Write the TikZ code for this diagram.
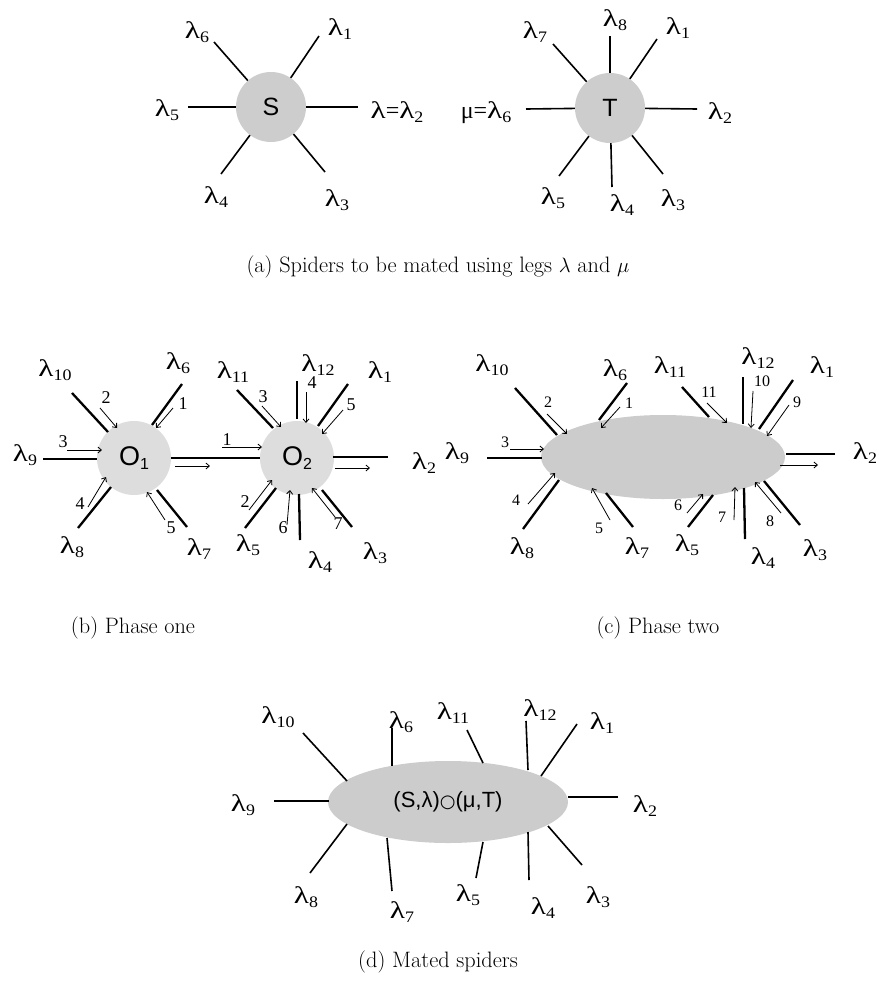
\documentclass[tikz,border=0pt]{standalone}
\usepackage{fontspec}
\usetikzlibrary{arrows.meta,shapes.geometric}
\newfontfamily\ser{Liberation Serif}
\newfontfamily\sansf{Liberation Sans}
\newfontfamily\dejavu{DejaVu Sans}
\newcommand\wl{\scalebox{1.3}[1]{λ}}
\newcommand\subn[1]{\raisebox{-0.35ex}{\fontsize{16}{16}\selectfont\scalebox{1.12}[1]{#1}}}
\newcommand\lam[1]{{\ser\fontsize{24}{24}\selectfont \wl\subn{#1}}}
\newcommand\lamrel[2]{{\ser\fontsize{24}{24}\selectfont #1=\wl\subn{#2}}}
\definecolor{bodya}{HTML}{CDCDCD}
\definecolor{bodyb}{HTML}{DDDDDD}
\definecolor{bodyc}{HTML}{CCCCCC}
\tikzset{
  lab/.style={inner sep=0pt},
  num/.style={inner sep=0pt, font=\ser\fontsize{18}{18}\selectfont},
  numc/.style={inner sep=0pt, font=\ser\fontsize{16}{16}\selectfont},
  leg/.style={line width=1.6pt},
  thickleg/.style={line width=2.3pt},
  arr/.style={line width=0.8pt, -{Straight Barb[length=3.5pt,width=6pt]}},
  disc/.style={circle, draw=none, inner sep=0pt, font=\sansf\fontsize{25}{25}\selectfont},
  oval/.style={ellipse, draw=none, inner sep=0pt},
  capt/.style={inner sep=0pt, font=\fontsize{22.3}{25}\selectfont}
}
\begin{document}
\begin{tikzpicture}[x=1pt,y=-1pt]
\path[use as bounding box, fill=white] (0,0) rectangle (878,990);

% ---------------- (a) ----------------
\node[disc, fill=bodya, minimum size=70pt] (S) at (271,107) {S};
\foreach \n/\xa/\ya in {6/214/42, 1/319/36, 5/188/107, 2/358/107, 4/221/174, 3/325/172}{
  \coordinate (s\n) at (\xa,\ya);
  \draw[leg] (S) -- (s\n);
}
\foreach \n/\xa/\ya in {6/197/32, 1/340/29, 5/167/110, 4/216/197, 3/337/200}{
  \node[lab] (sl\n) at (\xa,\ya) {\lam{\n}};
}
\node[lab] (sl2) at (397,112) {\lamrel{\wl}{2}};

\node[disc, fill=bodya, minimum size=70pt] (T) at (610,108) {T};
\foreach \n/\xa/\ya in {7/553/44, 8/610/36, 1/657/39, 6/526/109, 2/697/109, 5/559/176, 4/612/187, 3/663/174}{
  \coordinate (t\n) at (\xa,\ya);
  \draw[leg] (T) -- (t\n);
}
\foreach \n/\xa/\ya in {7/535/32, 8/615/20, 1/678/28, 2/720/113, 5/553/198, 4/622/205, 3/673/200}{
  \node[lab] (tl\n) at (\xa,\ya) {\lam{\n}};
}
\node[lab] (tl6) at (486,113) {\lamrel{μ}{6}};

\node[capt] (capa) at (438,267) {(a) Spiders to be mated using legs $\lambda$ and $\mu$};

% ---------------- (b) ----------------
\node[disc, fill=bodyb, minimum size=74pt, font=\sansf\fontsize{27}{27}\selectfont] (O1) at (134,458) {O\raisebox{-0.3ex}{\fontsize{16}{16}\selectfont 1}};
\node[disc, fill=bodyb, minimum size=74pt, font=\sansf\fontsize{27}{27}\selectfont] (O2) at (297,458) {O\raisebox{-0.3ex}{\fontsize{16}{16}\selectfont 2}};
\foreach \n/\xa/\ya/\xb/\yb in {10/72/393/108/432, 6/182/384/152/425, 9/43/459/97/459, 8/78/528/111/487, 7/187/527/157/490,
  11/237/390/273/428, 12/297/381/297/419, 1/348/384/318/426, 2/388/457/333/457, 5/245/528/276/488, 4/300/540/299/494, 3/352/527/322/490}{
  \coordinate (b\n o) at (\xa,\ya);
  \coordinate (b\n i) at (\xb,\yb);
  \draw[thickleg] (b\n o) -- (b\n i);
}
\draw[thickleg] (O1) -- (O2);
\foreach \n/\xa/\ya in {10/55/370, 6/178/363, 9/25/455, 8/72/547, 7/199/549, 11/233/372, 12/318/365, 1/380/372, 2/424/463, 5/248/545, 4/320/562, 3/375/553}{
  \node[lab] (bl\n) at (\xa,\ya) {\lam{\n}};
}
\foreach \k/\t/\xa/\ya/\xb/\yb/\lx/\ly in {a/2/100/408/117/428/106/398, b/1/173/408/156/428/183/404, c/3/67/450/102/450/63/442,
  d/4/88/507/106/477/80/504, e/5/165/520/147/492/171/528, f/1/222/447/262/447/227/440,
  g/3/262/406/281/427/263/397, h/4/306/392/306/423/312/383, i/5/343/410/322/434/351/405,
  j/2/249/510/272/480/245/502, k/6/287/525/290/490/283/528, l/7/335/517/312/488/338/524}{
  \coordinate (ba\k s) at (\xa,\ya);
  \coordinate (ba\k e) at (\xb,\yb);
  \draw[arr] (ba\k s) -- (ba\k e);
  \node[num] (ban\k) at (\lx,\ly) {\t};
}
\coordinate (bout1s) at (175,466); \coordinate (bout1e) at (210,466);
\draw[arr] (bout1s) -- (bout1e);
\coordinate (bout2s) at (335,468); \coordinate (bout2e) at (370,468);
\draw[arr] (bout2s) -- (bout2e);

\node[capt] (capb) at (133,628) {(b) Phase one};

% ---------------- (c) ----------------
\node[oval, fill=bodyc, minimum width=244pt, minimum height=84pt] (E1) at (663,457) {};
\foreach \n/\xa/\ya/\xb/\yb in {10/515/388/557/435, 6/627/383/599/420, 9/487/458/542/458, 8/523/529/559/480, 7/633/527/606/493,
  11/682/387/709/417, 12/743/377/743/424, 1/793/380/759/429, 2/835/454/786/454, 5/688/527/713/495, 4/745/539/744/488, 3/800/525/764/481}{
  \coordinate (c\n o) at (\xa,\ya);
  \coordinate (c\n i) at (\xb,\yb);
  \draw[thickleg] (c\n o) -- (c\n i);
}
\foreach \n/\xa/\ya in {10/492/365, 6/615/370, 9/457/453, 8/522/548, 7/637/548, 11/670/367, 12/758/358, 1/822/367, 2/865/453, 5/687/545, 4/763/558, 3/815/550}{
  \node[lab] (cl\n) at (\xa,\ya) {\lam{\n}};
}
\foreach \k/\t/\xa/\ya/\xb/\yb/\lx/\ly in {a/2/547/414/567/434/548/402, b/1/620/407/601/428/629/403, c/3/510/449/544/449/505/442,
  d/4/528/504/555/473/516/500, e/5/610/520/592/488/599/528, f/11/707/403/727/423/709/392,
  g/10/753/391/751/428/762/381, h/9/789/405/767/436/797/402, i/6/687/513/703/494/678/505,
  j/7/734/520/735/487/722/517, k/8/781/513/755/482/770/521}{
  \coordinate (ca\k s) at (\xa,\ya);
  \coordinate (ca\k e) at (\xb,\yb);
  \draw[arr] (ca\k s) -- (ca\k e);
  \node[numc] (can\k) at (\lx,\ly) {\t};
}
\coordinate (coutS) at (780,465); \coordinate (coutE) at (818,465);
\draw[arr] (coutS) -- (coutE);

\node[capt] (capc) at (658,628) {(c) Phase two};

% ---------------- (d) ----------------
\node[oval, fill=bodyc, minimum width=240pt, minimum height=82pt, font=\sansf\fontsize{22}{22}\selectfont] (E2) at (448,802)
  {(S,λ){\dejavu\fontsize{18}{18}\selectfont ○}(μ,T)};
\foreach \n/\xa/\ya/\xb/\yb in {10/303/733/347/781, 6/392/728/392/766, 11/467/730/483/763, 12/526/721/528/770, 1/577/724/541/776,
  9/274/801/329/801, 2/618/797/568/797, 8/310/873/347/824, 7/392/891/387/838, 5/476/878/483/842, 4/529/880/528/832, 3/582/865/548/826}{
  \coordinate (d\n o) at (\xa,\ya);
  \coordinate (d\n i) at (\xb,\yb);
  \draw[leg] (d\n o) -- (d\n i);
}
\foreach \n/\xa/\ya in {10/278/717, 6/401/722, 11/453/713, 12/540/710, 1/602/723, 9/243/805, 2/645/806, 8/306/897, 7/402/912, 5/468/895, 4/543/908, 3/598/897}{
  \node[lab] (dl\n) at (\xa,\ya) {\lam{\n}};
}

\node[capt] (capd) at (438,962) {(d) Mated spiders};
\end{tikzpicture}
\end{document}
